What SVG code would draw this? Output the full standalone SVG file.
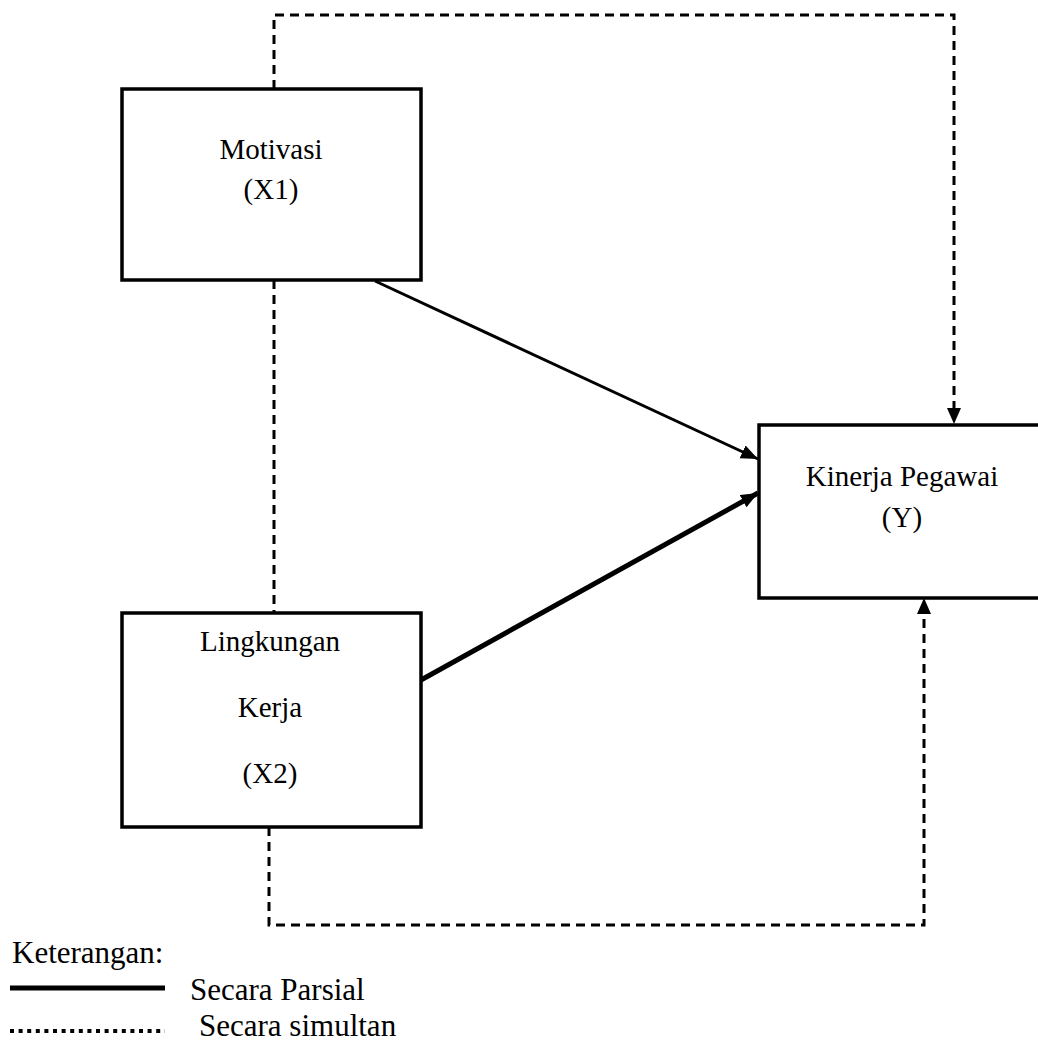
<svg xmlns="http://www.w3.org/2000/svg" width="1038" height="1041" viewBox="0 0 1038 1041">
<style>
.box{fill:#fff;stroke:#000;stroke-width:3.5}
.t{font-family:"Liberation Serif","Times New Roman",serif;font-size:29px;fill:#000;text-anchor:middle}
.lg{font-family:"Liberation Serif","Times New Roman",serif;font-size:31px;fill:#000}
.dash{fill:none;stroke:#000;stroke-width:3;stroke-dasharray:9 6}
.solid{fill:none;stroke:#000}
</style>
<defs>
<marker id="ah" markerUnits="userSpaceOnUse" markerWidth="20" markerHeight="16" refX="17" refY="7" orient="auto">
<path d="M0,0 L17,7 L0,14 Z" fill="#000"/>
</marker>
</defs>
<rect width="1038" height="1041" fill="#fff"/>
<g id="connectors">
<path class="dash" d="M274,89 V15 H954 V409"/>
<path d="M954,424 L947,408 L961,408 Z" fill="#000"/>
<path class="dash" d="M274,280 V613"/>
<path class="dash" d="M269,827 V925 H924 V614"/>
<path d="M924,598 L917,614 L931,614 Z" fill="#000"/>
<line class="solid" x1="375" y1="281" x2="758" y2="459" stroke-width="3" marker-end="url(#ah)"/>
<line class="solid" x1="421" y1="680" x2="758" y2="493" stroke-width="5" marker-end="url(#ah)"/>
</g>
<g id="motivasi">
<rect class="box" x="122" y="89" width="299" height="191"/>
<text class="t" x="271" y="159">Motivasi</text>
<text class="t" x="271" y="199">(X1)</text>
</g>
<g id="lingkungan">
<rect class="box" x="122" y="613" width="299" height="214"/>
<text class="t" x="270" y="651">Lingkungan</text>
<text class="t" x="270" y="717">Kerja</text>
<text class="t" x="270" y="783">(X2)</text>
</g>
<g id="kinerja">
<rect class="box" x="759" y="425" width="300" height="173"/>
<text class="t" x="902" y="486">Kinerja Pegawai</text>
<text class="t" x="902" y="527">(Y)</text>
</g>
<g id="legend">
<text class="lg" x="12" y="963">Keterangan:</text>
<line x1="10" y1="988" x2="165" y2="988" stroke="#000" stroke-width="5"/>
<text class="lg" x="190" y="1000">Secara Parsial</text>
<line x1="10" y1="1031" x2="165" y2="1031" stroke="#000" stroke-width="4" stroke-dasharray="4 4.6"/>
<text class="lg" x="199" y="1036">Secara simultan</text>
</g>
</svg>
